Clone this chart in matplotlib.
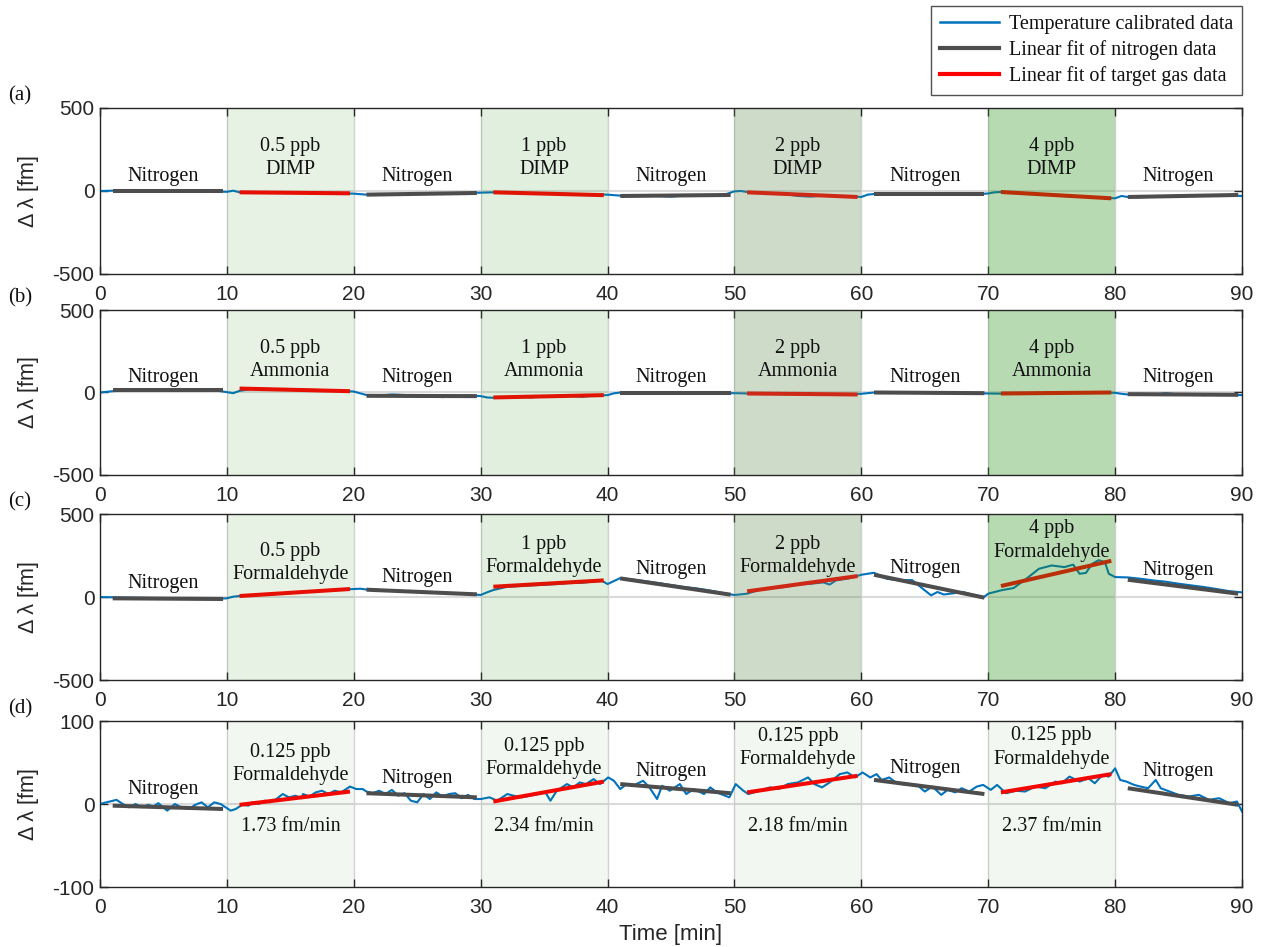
import matplotlib
matplotlib.use("Agg")
import matplotlib.pyplot as plt
from matplotlib.lines import Line2D

plt.rcParams['axes.unicode_minus'] = False

# ---------------- data ----------------
segment_starts = [0, 10, 20, 30, 40, 50, 60, 70, 80]
xticks = [0, 10, 20, 30, 40, 50, 60, 70, 80, 90]
panel_tags = ['(a)', '(b)', '(c)', '(d)']
gases = ['DIMP', 'Ammonia', 'Formaldehyde', 'Formaldehyde']
conc_abc = ['0.5 ppb', '1 ppb', '2 ppb', '4 ppb']
conc_d = ['0.125 ppb', '0.125 ppb', '0.125 ppb', '0.125 ppb']
rates_d = ['1.73 fm/min', '2.34 fm/min', '2.18 fm/min', '2.37 fm/min']
ylims = [500, 500, 500, 100]

# panel (a) DIMP
a_t = [0, 1, 2, 3, 4, 5, 6, 7, 8, 9, 10, 10.5, 11, 12, 13, 14, 15, 16, 17, 18, 19, 20,
       21, 22, 23, 24, 25, 26, 27, 28, 29, 30, 31, 32, 33, 34, 35, 36, 37, 38, 39, 40,
       41, 42, 43, 44, 45, 46, 47, 48, 49, 49.5, 50, 50.5, 51, 52, 53, 54, 55, 56, 57, 58,
       59, 60, 60.5, 61, 62, 63, 64, 65, 66, 67, 68, 69, 70, 70.5, 71, 72, 73, 74, 75, 76,
       77, 78, 79, 80, 80.5, 81, 82, 83, 84, 85, 86, 87, 88, 89, 90]
a_v = [0, 2, 1, 0, 1, 0, -1, 0, 0, -2, -5, 2, -8, -9, -9, -10, -11, -11, -12, -13, -14, -16,
       -22, -20, -19, -18, -17, -16, -15, -14, -12, -10, -8, -10, -11, -13, -15, -16, -18, -19, -21, -22,
       -28, -27, -28, -30, -34, -28, -26, -25, -24, -15, -2, 0, -6, -11, -14, -18, -30, -34, -27, -30,
       -33, -36, -22, -18, -20, -22, -18, -23, -20, -19, -21, -20, -15, -8, -6, -10, -14, -18, -24, -30,
       -36, -36, -40, -44, -30, -36, -38, -34, -33, -31, -30, -29, -27, -26, -30]
a_nfit = [(0, 0), (-22, -12), (-30, -24), (-20, -20), (-36, -24)]
a_tfit = [(-8, -14), (-8, -25), (-8, -36), (-6, -44)]

# panel (b) Ammonia
b_t = [0, 1, 2, 3, 4, 5, 6, 7, 8, 9, 10, 10.5, 11, 12, 13, 14, 15, 16, 17, 18, 19, 20,
       20.5, 21, 22, 23, 24, 25, 26, 27, 28, 29, 30, 30.5, 31, 32, 33, 34, 35, 36, 37, 38,
       39, 40, 40.5, 41, 42, 43, 44, 45, 46, 47, 48, 49, 50, 51, 52, 53, 54, 55, 56, 57,
       58, 59, 60, 61, 62, 63, 64, 65, 66, 67, 68, 69, 70, 71, 72, 73, 74, 75, 76, 77,
       78, 79, 80, 80.5, 81, 82, 83, 84, 85, 86, 87, 88, 89, 90]
b_v = [0, 8, 12, 13, 14, 14, 13, 14, 15, 14, 2, -4, 10, 22, 22, 20, 18, 17, 15, 13, 10, 6,
       -5, -15, -18, -12, -15, -24, -22, -28, -22, -18, -22, -30, -32, -28, -25, -30, -22, -24, -20, -26,
       -18, -16, -5, 0, -6, -5, -8, -6, -4, -8, -6, -5, -4, -6, -5, -8, -10, -7, -9, -12,
       -10, -12, -8, 0, -1, -3, -2, -3, -4, -2, -5, -4, -6, -7, -5, -4, -6, -3, -2, -3,
       -1, 0, -2, -8, -12, -8, -14, -4, -12, -10, -16, -12, -14, -16]
b_nfit = [(14, 14), (-20, -22), (-6, -6), (0, -4), (-10, -14)]
b_tfit = [(24, 8), (-30, -16), (-6, -12), (-6, 0)]

# panel (c) Formaldehyde
c_t = [0, 1, 2, 3, 4, 5, 6, 7, 8, 9, 10, 10.5, 11, 12, 13, 14, 15, 16, 17, 18, 19, 20,
       20.5, 21, 22, 23, 24, 25, 26, 27, 28, 29, 30, 30.5, 31, 32, 33, 34, 35, 36, 37, 38,
       39, 39.5, 40, 40.5, 41, 42, 43, 44, 45, 46, 47, 48, 49, 50, 51, 52, 53, 54, 55, 56,
       57, 57.5, 58, 59, 60, 61, 62, 63, 64, 65, 65.5, 66, 66.5, 67, 68, 69, 69.6, 70, 71, 72,
       73, 74, 75, 76, 76.7, 77.2, 77.7, 78.2, 78.7, 79.2, 79.5, 80, 81, 82, 83, 84, 85, 86,
       87, 88, 89, 90]
c_v = [0, -2, -4, -5, -6, -7, -8, -9, -10, -11, -8, 2, 6, 10, 15, 20, 25, 30, 34, 39, 44, 48,
       50, 45, 42, 39, 36, 32, 29, 25, 22, 19, 12, 28, 42, 60, 66, 70, 74, 78, 84, 86,
       94, 100, 78, 96, 114, 105, 95, 84, 72, 60, 52, 40, 25, 12, 20, 44, 55, 60, 75, 80,
       88, 75, 100, 112, 134, 146, 110, 100, 102, 40, 10, 30, 15, 20, 30, 10, -4, 20, 40, 54,
       110, 170, 190, 180, 195, 140, 145, 200, 222, 210, 140, 120, 118, 110, 100, 92, 80, 70,
       60, 48, 35, 28]
c_nfit = [(-8, -12), (44, 16), (112, 14), (134, -4), (104, 20)]
c_tfit = [(6, 48), (62, 100), (34, 126), (66, 218)]

# panel (d) Formaldehyde, low concentration
d_t = [0, 0.5, 1.3, 1.8, 2.3, 2.8, 3.3, 3.8, 4.2, 4.6, 5.3, 5.9, 6.4, 7.0, 7.5, 8.0, 8.5, 9.0,
       9.5, 10.3, 10.7, 11.2, 11.7, 12.0, 12.5, 13.0, 13.4, 13.9, 14.4, 14.9, 15.4, 15.9, 16.0,
       16.5, 17.0, 17.5, 18.0, 18.5, 19.0, 19.7, 20.2, 20.7, 21, 21.5, 22, 22.5, 23, 23.5, 24,
       24.5, 25, 25.5, 26, 26.5, 27, 27.5, 28, 28.5, 29, 29.5, 30, 30.7, 31.3, 32.1, 32.6, 33.2,
       33.9, 34.5, 35.1, 35.5, 36, 36.8, 37.3, 37.8, 38.3, 38.9, 39.4, 40.05, 40.5, 41, 41.5, 42,
       42.8, 43.3, 43.9, 44.3, 44.9, 45.7, 46.2, 46.8, 47.6, 48.1, 48.6, 49.6, 50.1, 50.7, 51.1,
       52, 52.8, 53.5, 54.2, 55, 55.8, 56.3, 56.9, 57.5, 58.3, 58.9, 59.5, 60.1, 60.7, 61.2, 61.6,
       62.2, 62.8, 63.6, 64.4, 65, 65.6, 66.3, 66.8, 67.4, 67.9, 68.5, 69.1, 69.6, 70.2, 70.7,
       71.4, 72.2, 72.9, 73.7, 74.5, 75.3, 75.8, 76.4, 77.2, 77.9, 78.4, 79.0, 79.5, 80, 80.4,
       80.9, 81.5, 82, 82.6, 83.2, 83.6, 84.3, 85, 85.8, 86.6, 87.4, 88.2, 89, 89.6, 90]
d_v = [0, 2, 5, 0, -4, 0, -4, -1, -3, 1, -8, 0, -4, -6, -1, 2, -4, 2,
       0, -8, -6, -1, -2, 2, 0, 4, 2, 6, 12, 8, 10, 7, 12,
       9, 14, 16, 12, 16, 14, 21, 18, 18, 15, 13, 16, 12, 17, 10, 13,
       4, 2, 12, 6, 14, 9, 12, 13, 7, 11, 6, 6, 8, 4, 12, 10, 8,
       10, 12, 14, 4, 16, 24, 20, 26, 24, 30, 24, 32, 28, 18, 24, 22,
       28, 20, 6, 22, 16, 24, 12, 18, 12, 20, 14, 8, 24, 16, 12,
       16, 20, 18, 24, 26, 32, 24, 20, 26, 36, 38, 32, 38, 32, 36, 29,
       32, 25, 23, 23, 15, 21, 11, 17, 14, 19, 15, 21, 23, 17, 23,
       13, 16, 15, 21, 19, 27, 25, 33, 27, 31, 25, 35, 33, 43, 29,
       27, 23, 21, 19, 29, 19, 15, 11, 9, 11, 5, 7, 1, 3, -9]
d_nfit = [(-2, -6), (13, 8), (24, 13), (29, 12), (19, -1)]
d_tfit = [(-1, 15), (3, 27), (14, 34), (14, 36)]

# ---------------- layout / style ----------------
# vertical centres (data units) of the segment labels in each panel
n_label_y = [[90, 90, 90, 90, 90], [88, 88, 88, 88, 88],
             [82, 116, 163, 173, 158], [18, 31, 39, 43, 39]]
t_label_y = [[200, 200, 198, 198], [197, 197, 197, 197],
             [203, 247, 248, 340], [48, 55, 67, 68]]
rate_label_y = -27

BLUE = '#0072BD'
GRAY = '#4d4d4d'
RED = '#ff0000'
GREEN = '#2a911b'
GRAYGREEN = '#5f8a4f'
shade_abc = [(GREEN, 0.11), (GREEN, 0.14), (GRAYGREEN, 0.30), (GREEN, 0.33)]
shade_d = [(GREEN, 0.06)] * 4
SERIF = ['Liberation Serif', 'DejaVu Serif']
SANS = ['Liberation Sans', 'DejaVu Sans']
TXT = '#111111'
AXC = '#262626'
LBL_FS = 14.5

fig = plt.figure(figsize=(12.64, 9.47), dpi=100)
W, H = 1264.0, 947.0
ax_px = [(108, 274), (310, 475), (514, 680), (721, 887)]
left_px, right_px = 100, 1242

panels = [
    (a_t, a_v, a_nfit, a_tfit),
    (b_t, b_v, b_nfit, b_tfit),
    (c_t, c_v, c_nfit, c_tfit),
    (d_t, d_v, d_nfit, d_tfit),
]

for i, ((t, v, nfit, tfit), (top, bot)) in enumerate(zip(panels, ax_px)):
    ax = fig.add_axes([left_px / W, 1 - bot / H, (right_px - left_px) / W, (bot - top) / H])
    lim = ylims[i]
    ax.set_xlim(0, 90)
    ax.set_ylim(-lim, lim)
    ax.axhline(0, color='#dadada', lw=1.5, zorder=0.5)
    for xb in xticks[1:-1]:
        ax.axvline(xb, color='#d2d2d2', lw=1.0, zorder=0.6)

    ax.plot(t, v, color=BLUE, lw=1.5, zorder=2)

    shades = shade_d if i == 3 else shade_abc
    for k in range(5):
        s = segment_starts[2 * k]
        y0, y1 = nfit[k]
        ax.plot([s + 1, s + 9.7], [y0, y1], color=GRAY, lw=2.9, solid_capstyle='butt', zorder=3)
        ax.text(s + 5, n_label_y[i][k], 'Nitrogen', ha='center', va='center',
                family=SERIF, fontsize=LBL_FS, color=TXT, zorder=6)
    for k in range(4):
        s = segment_starts[2 * k + 1]
        y0, y1 = tfit[k]
        ax.plot([s + 1, s + 9.7], [y0, y1], color=RED, lw=2.9, solid_capstyle='butt', zorder=3)
        col, al = shades[k]
        ax.axvspan(s, s + 10, color=col, alpha=al, lw=0, zorder=4)
        conc = conc_d[k] if i == 3 else conc_abc[k]
        ax.text(s + 5, t_label_y[i][k], conc + '\n' + gases[i], ha='center', va='center',
                family=SERIF, fontsize=LBL_FS, color=TXT, linespacing=1.3, zorder=6)
        if i == 3:
            ax.text(s + 5, rate_label_y, rates_d[k], ha='center', va='center',
                    family=SERIF, fontsize=LBL_FS, color=TXT, zorder=6)

    ax.set_xticks(xticks)
    ax.set_yticks([-lim, 0, lim])
    ax.set_yticklabels([str(-lim), '0', str(lim)])
    ax.tick_params(direction='in', length=6, width=1, top=True, right=True,
                   labelsize=15, colors=AXC)
    ax.tick_params(axis='x', pad=8)
    ax.tick_params(axis='y', pad=4)
    for lab in ax.get_xticklabels() + ax.get_yticklabels():
        lab.set_family(SANS)
    for sp in ax.spines.values():
        sp.set_color(AXC)
        sp.set_linewidth(1.0)
        sp.set_zorder(7)
    ax.set_ylabel('Δ λ [fm]', fontsize=15.5, color=AXC, family=SANS)
    ax.yaxis.set_label_coords(-0.053, 0.5)
    fig.text(8 / W, 1 - (top - 12) / H, panel_tags[i], family=SERIF, fontsize=15,
             ha='left', va='center', color=TXT)
    if i == 3:
        ax.set_xlabel('Time [min]', fontsize=16, color=AXC, family=SANS)
        ax.xaxis.set_label_coords(0.5, -0.225)

handles = [Line2D([], [], color=BLUE, lw=1.8),
           Line2D([], [], color=GRAY, lw=3.0),
           Line2D([], [], color=RED, lw=3.0)]
labels = ['Temperature calibrated data', 'Linear fit of nitrogen data',
          'Linear fit of target gas data']
leg = fig.legend(handles, labels, loc='upper right', bbox_to_anchor=(1242 / W, 1 - 6 / H),
                 borderaxespad=0, prop={'family': SERIF, 'size': 14.5}, frameon=True,
                 fancybox=False, edgecolor=AXC, handlelength=2.9, handletextpad=0.5,
                 borderpad=0.45, labelspacing=0.3)
leg.get_frame().set_linewidth(1.0)
for txt in leg.get_texts():
    txt.set_color(TXT)

fig.savefig('out.png', dpi=100)
